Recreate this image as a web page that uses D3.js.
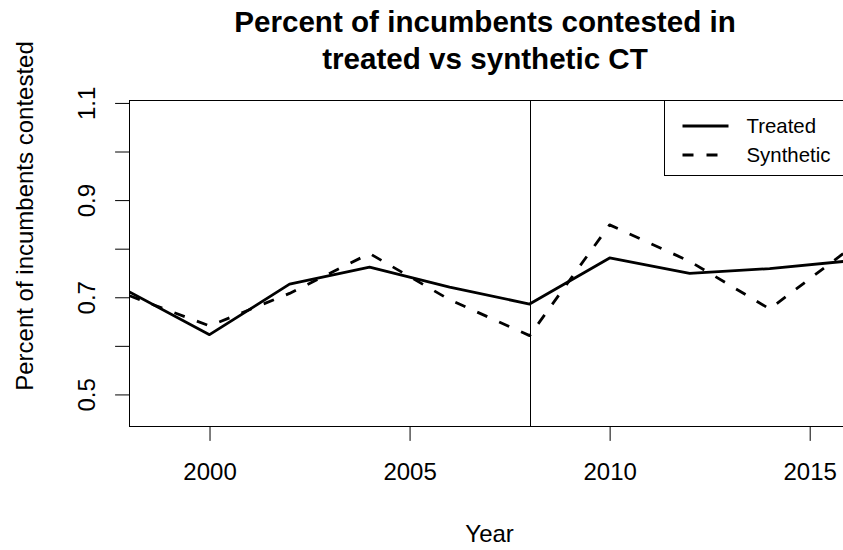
<!DOCTYPE html>
<html>
<head>
<meta charset="utf-8">
<script src="https://cdn.jsdelivr.net/npm/d3@7"></script>
<style>
  html, body { margin: 0; padding: 0; background: #fff; }
  svg { display: block; }
  text { font-family: "Liberation Sans", Arial, Helvetica, sans-serif; fill: #000; }
</style>
</head>
<body>
<svg id="chart" width="843" height="550"></svg>
<script>
// Election years and the share of incumbents facing a challenger
const years = [1998, 2000, 2002, 2004, 2006, 2008, 2010, 2012, 2014, 2016];
const treated = [0.711, 0.623, 0.727, 0.762, 0.721, 0.686, 0.781, 0.749, 0.759, 0.775];
const synthetic = [0.703, 0.641, 0.708, 0.790, 0.695, 0.621, 0.849, 0.774, 0.676, 0.800];

// Axis ticks and labels
const xTicks = [2000, 2005, 2010, 2015];
const yTicks = [0.5, 0.6, 0.7, 0.8, 0.9, 1.0, 1.1];
const yLabelled = [0.5, 0.7, 0.9, 1.1];
const xLimits = [1998, 2016];
const yLimits = [0.434, 1.105];
const treatmentYear = 2008;

const titleLines = ["Percent of incumbents contested in", "treated vs synthetic CT"];
const xTitle = "Year";
const yTitle = "Percent of incumbents contested";
const seriesNames = ["Treated", "Synthetic"];

// Plot region
const plot = { left: 129.5, right: 849.7, top: 100.5, bottom: 426.5 };
const axisFont = 24, titleFont = 29.6, legendFont = 20.4, tickLen = 14.4;

const svg = d3.select("#chart");

const x = d3.scaleLinear().domain(xLimits).range([plot.left, plot.right]);
const y = d3.scaleLinear().domain(yLimits).range([plot.bottom, plot.top]);

svg.append("defs").append("clipPath").attr("id", "plotClip")
  .append("rect")
  .attr("x", plot.left).attr("y", plot.top)
  .attr("width", plot.right - plot.left).attr("height", plot.bottom - plot.top);

// Series lines
const line = d3.line().x((d, i) => x(years[i])).y(d => y(d));
const g = svg.append("g").attr("clip-path", "url(#plotClip)");

g.append("path").datum(treated)
  .attr("d", line).attr("fill", "none").attr("stroke", "#000")
  .attr("stroke-width", 2.8).attr("stroke-linejoin", "round").attr("stroke-linecap", "round");

g.append("path").datum(synthetic)
  .attr("d", line).attr("fill", "none").attr("stroke", "#000")
  .attr("stroke-width", 2.8).attr("stroke-dasharray", "11 13").attr("stroke-linecap", "butt")
  .attr("stroke-linejoin", "round");

// Vertical marker at the treatment year
g.append("line")
  .attr("x1", Math.round(x(treatmentYear)) + 0.5).attr("x2", Math.round(x(treatmentYear)) + 0.5)
  .attr("y1", plot.top).attr("y2", plot.bottom)
  .attr("stroke", "#000").attr("stroke-width", 1);

// X axis
const xAxis = svg.append("g")
  .attr("transform", `translate(0,${plot.bottom})`)
  .call(d3.axisBottom(x).tickValues(xTicks).tickFormat(d3.format("d"))
    .tickSize(tickLen).tickSizeOuter(0).tickPadding(22));
xAxis.select(".domain").remove();
xAxis.selectAll(".tick line").attr("stroke", "#000");
xAxis.selectAll(".tick text")
  .attr("font-size", axisFont).attr("font-family", null).style("fill", "#000");

// Y axis
const yAxis = svg.append("g")
  .attr("transform", `translate(${plot.left},0)`)
  .call(d3.axisLeft(y).tickValues(yTicks)
    .tickFormat(d => yLabelled.some(v => Math.abs(v - d) < 1e-9) ? d3.format(".1f")(d) : "")
    .tickSize(tickLen).tickSizeOuter(0));
yAxis.select(".domain").remove();
yAxis.selectAll(".tick line").attr("stroke", "#000");
yAxis.selectAll(".tick text")
  .attr("font-size", axisFont).attr("font-family", null).style("fill", "#000")
  .attr("transform", "rotate(-90)")
  .attr("x", 0).attr("y", -34.5).attr("dy", null)
  .attr("text-anchor", "middle");

// Plot frame
svg.append("rect")
  .attr("x", plot.left).attr("y", plot.top)
  .attr("width", plot.right - plot.left).attr("height", plot.bottom - plot.top)
  .attr("fill", "none").attr("stroke", "#000").attr("stroke-width", 1);

// Titles
const titleX = 485;
svg.append("g").selectAll("text").data(titleLines).join("text")
  .attr("x", titleX).attr("y", (d, i) => 32 + i * 36.5)
  .attr("text-anchor", "middle").attr("font-size", titleFont).attr("font-weight", "bold")
  .text(d => d);

svg.append("text")
  .attr("x", (plot.left + plot.right) / 2).attr("y", 542)
  .attr("text-anchor", "middle").attr("font-size", axisFont)
  .text(xTitle);

svg.append("text")
  .attr("transform", "translate(33,216) rotate(-90)")
  .attr("text-anchor", "middle").attr("font-size", axisFont)
  .text(yTitle);

// Legend
const legend = svg.append("g");
legend.append("rect")
  .attr("x", 664.5).attr("y", plot.top)
  .attr("width", plot.right - 664.5).attr("height", 175.5 - plot.top)
  .attr("fill", "#fff").attr("stroke", "#000").attr("stroke-width", 1);

const legendRows = [126, 155];
const legendDash = [null, "11 13"];
seriesNames.forEach((name, i) => {
  legend.append("line")
    .attr("x1", 682.5).attr("x2", 728.5)
    .attr("y1", legendRows[i]).attr("y2", legendRows[i])
    .attr("stroke", "#000").attr("stroke-width", 2.8)
    .attr("stroke-dasharray", legendDash[i]);
  legend.append("text")
    .attr("x", 746.5).attr("y", legendRows[i] + 7.3)
    .attr("font-size", legendFont)
    .text(name);
});
</script>
</body>
</html>
